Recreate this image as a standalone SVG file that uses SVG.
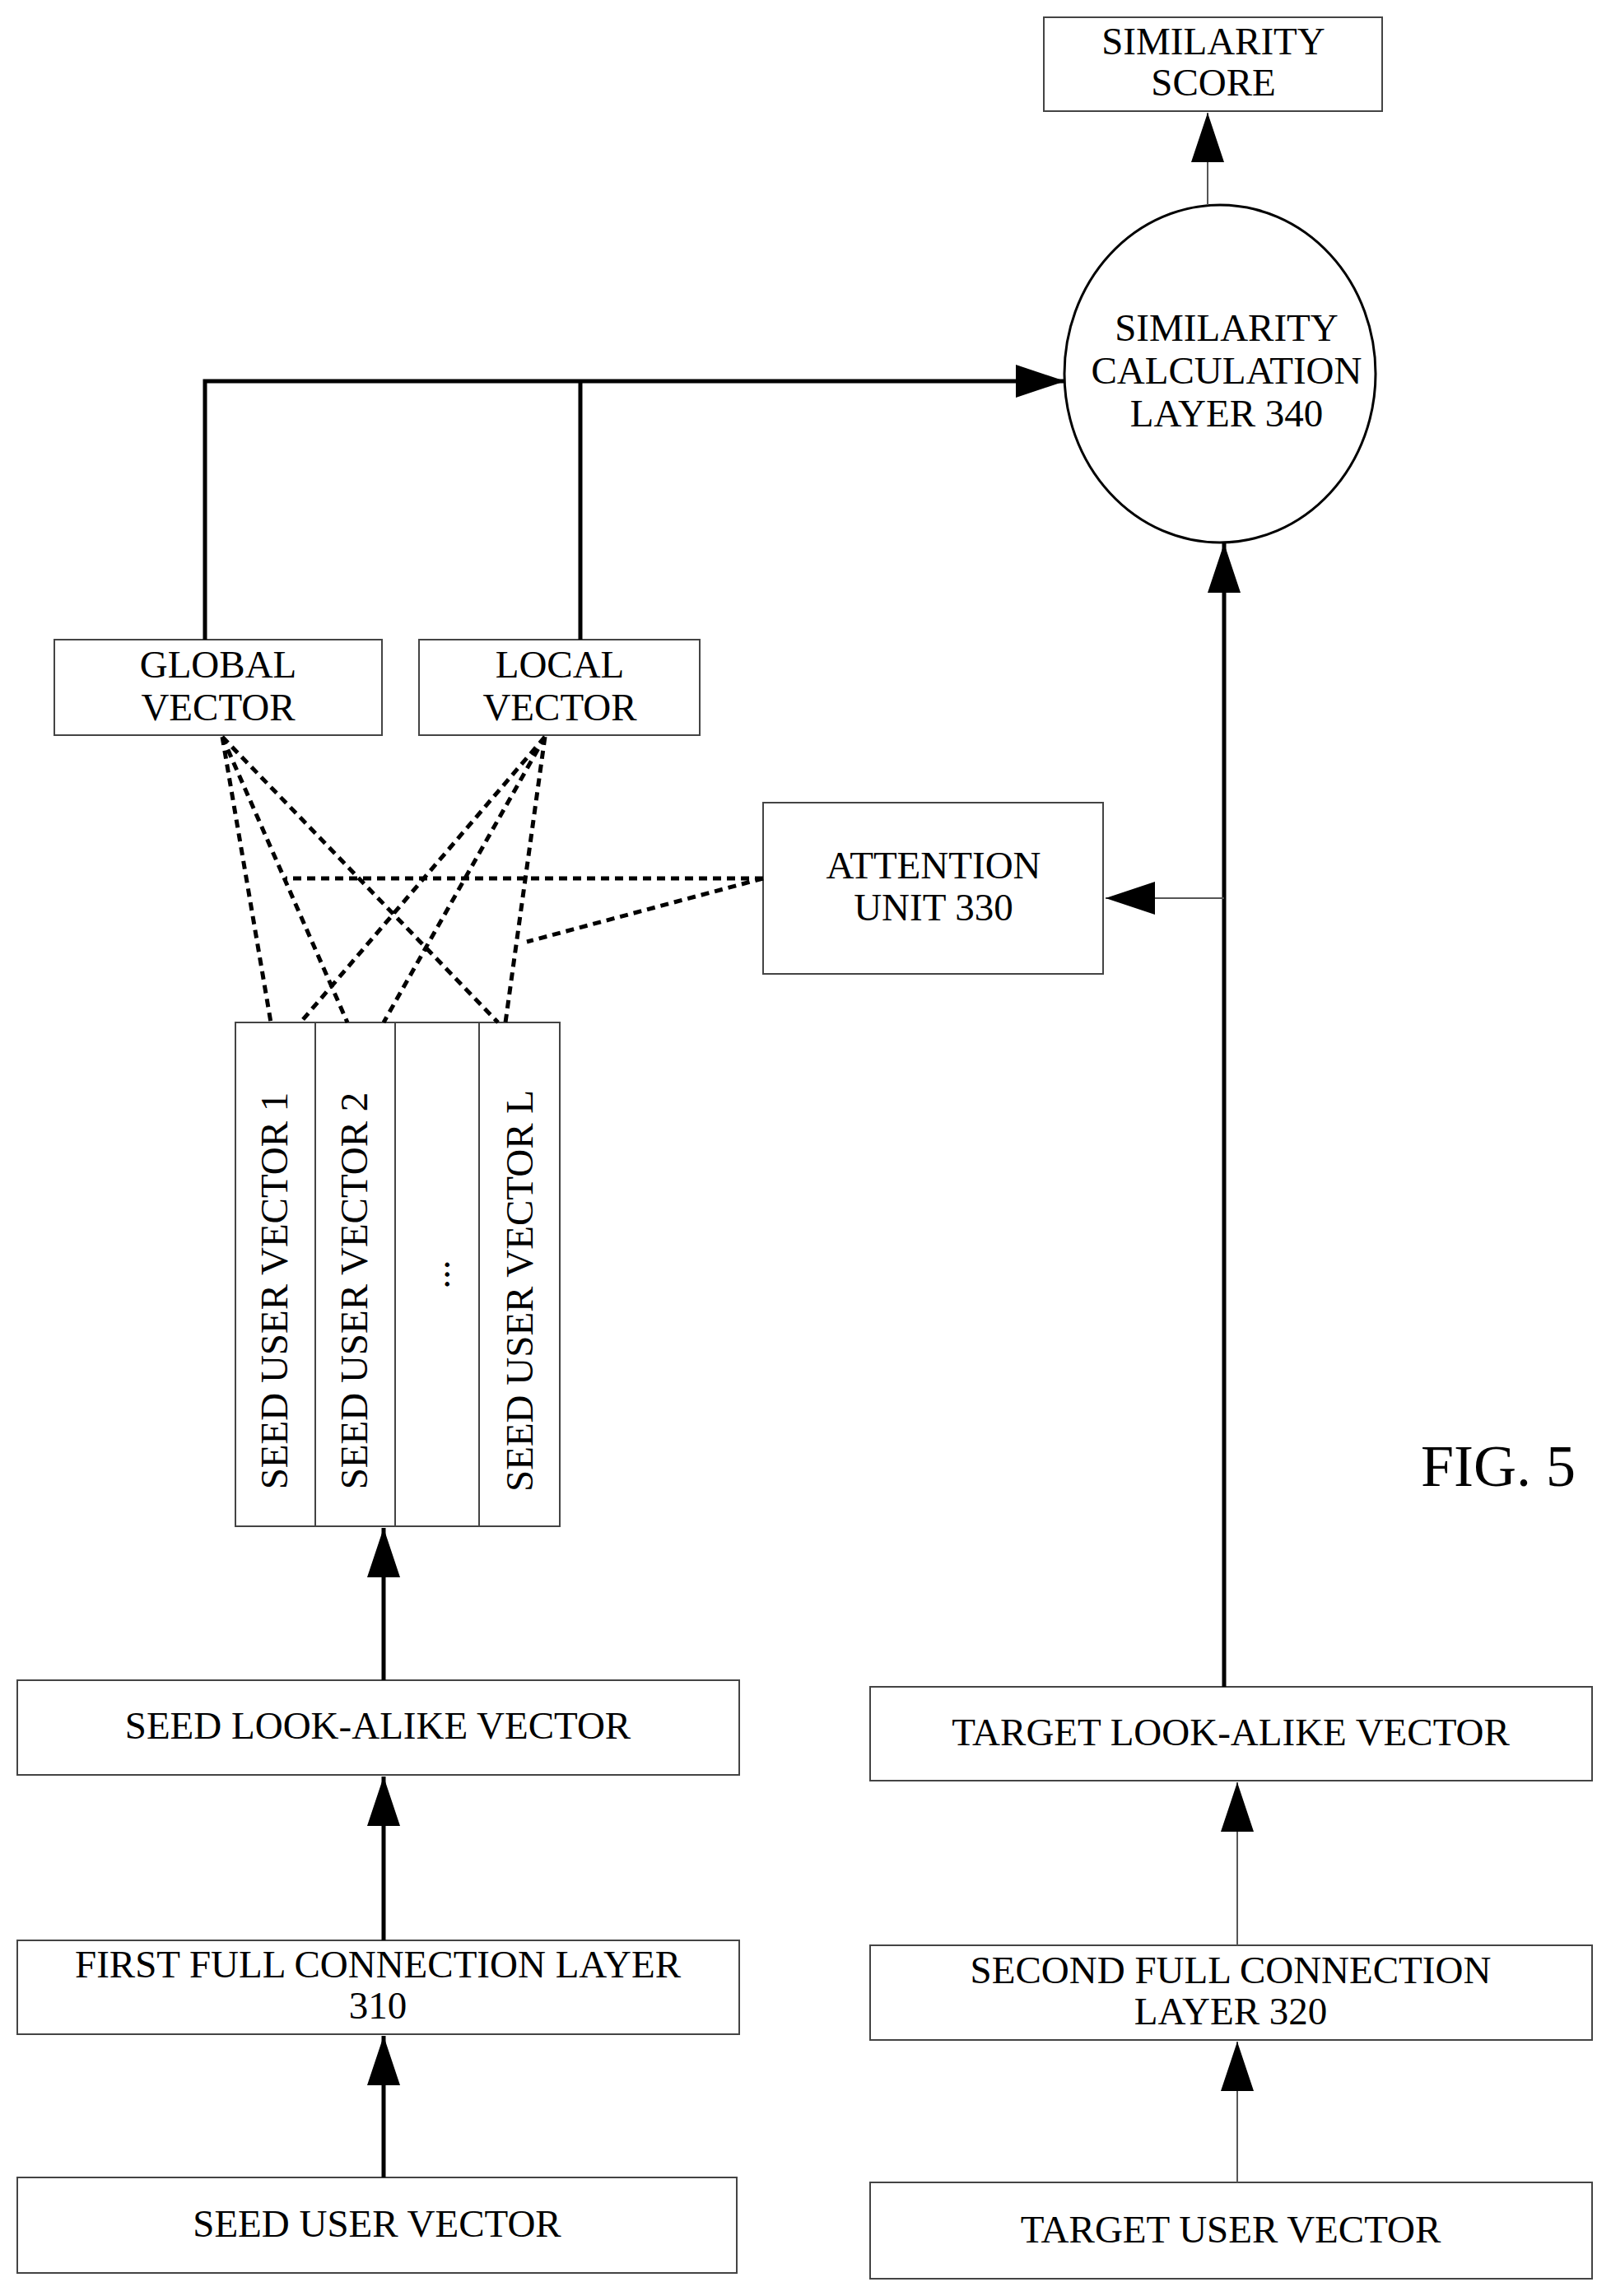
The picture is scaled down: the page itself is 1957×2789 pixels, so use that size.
<svg xmlns="http://www.w3.org/2000/svg" width="1957" height="2789" viewBox="0 0 1957 2789">
<style>
.b{fill:#fff;stroke:#444;stroke-width:2}
.t{font-family:"Liberation Serif",serif;font-size:47px;fill:#000;text-anchor:middle}
.k{stroke:#000;stroke-width:5;fill:none}
.n{stroke:#555;stroke-width:2;fill:none}
.d{stroke:#000;stroke-width:5;stroke-dasharray:10,7;fill:none}
</style>
<defs>
<marker id="a" markerUnits="userSpaceOnUse" markerWidth="60" markerHeight="40" refX="60" refY="20" orient="auto" viewBox="0 0 60 40"><path d="M0,0L60,20L0,40z" fill="#000"/></marker>
</defs>
<rect width="1957" height="2789" fill="#fff"/>
<g id="score"><rect class="b" x="1268" y="21" width="411" height="114"/><text class="t" x="1474" y="66">SIMILARITY</text><text class="t" x="1474" y="116">SCORE</text></g>
<g id="simcalc"><ellipse cx="1482" cy="454" rx="189" ry="205" fill="#fff" stroke="#000" stroke-width="3"/><text class="t" x="1490" y="414">SIMILARITY</text><text class="t" x="1490" y="466">CALCULATION</text><text class="t" x="1490" y="518">LAYER 340</text></g>
<g id="global"><rect class="b" x="66" y="777" width="398" height="116"/><text class="t" x="265" y="823">GLOBAL</text><text class="t" x="265" y="875">VECTOR</text></g>
<g id="local"><rect class="b" x="509" y="777" width="341" height="116"/><text class="t" x="680" y="823">LOCAL</text><text class="t" x="680" y="875">VECTOR</text></g>
<g id="attention"><rect class="b" x="927" y="975" width="413" height="208"/><text class="t" x="1134" y="1067">ATTENTION</text><text class="t" x="1134" y="1118">UNIT 330</text></g>
<g id="seedvecs">
<rect class="b" x="286" y="1242" width="97" height="612"/><rect class="b" x="383" y="1242" width="97" height="612"/><rect class="b" x="480" y="1242" width="102" height="612"/><rect class="b" x="582" y="1242" width="98" height="612"/>
<text class="t" transform="translate(349,1568) rotate(-90)">SEED USER VECTOR 1</text>
<text class="t" transform="translate(446,1568) rotate(-90)">SEED USER VECTOR 2</text>
<text class="t" transform="translate(546,1548) rotate(-90)">...</text>
<text class="t" transform="translate(647,1568) rotate(-90)">SEED USER VECTOR L</text>
</g>
<g id="seedlook"><rect class="b" x="21" y="2041" width="877" height="115"/><text class="t" x="459" y="2112">SEED LOOK-ALIKE VECTOR</text></g>
<g id="fc1"><rect class="b" x="21" y="2357" width="877" height="114"/><text class="t" x="459" y="2402">FIRST FULL CONNECTION LAYER</text><text class="t" x="459" y="2452">310</text></g>
<g id="seeduser"><rect class="b" x="21" y="2645" width="874" height="116"/><text class="t" x="458" y="2717">SEED USER VECTOR</text></g>
<g id="targetlook"><rect class="b" x="1057" y="2049" width="877" height="114"/><text class="t" x="1495" y="2120">TARGET LOOK-ALIKE VECTOR</text></g>
<g id="fc2"><rect class="b" x="1057" y="2363" width="877" height="115"/><text class="t" x="1495" y="2409">SECOND FULL CONNECTION</text><text class="t" x="1495" y="2459">LAYER 320</text></g>
<g id="targetuser"><rect class="b" x="1057" y="2651" width="877" height="117"/><text class="t" x="1495" y="2724">TARGET USER VECTOR</text></g>
<text x="1820" y="1805" style="font-family:'Liberation Serif',serif;font-size:72px;text-anchor:middle">FIG. 5</text>
<g id="connectors">
<path class="n" d="M1467,249V137" marker-end="url(#a)"/>
<path class="k" d="M249,777V463H1294" marker-end="url(#a)"/>
<path class="k" d="M705,777V463"/>
<path class="k" d="M1487,2049V660" marker-end="url(#a)"/>
<path class="n" d="M1487,1091H1343" marker-end="url(#a)"/>
<path class="k" d="M466,2041V1856" marker-end="url(#a)"/>
<path class="k" d="M466,2357V2158" marker-end="url(#a)"/>
<path class="k" d="M466,2645V2473" marker-end="url(#a)"/>
<path class="n" d="M1503,2363V2165" marker-end="url(#a)"/>
<path class="n" d="M1503,2651V2480" marker-end="url(#a)"/>
<path class="d" d="M270,895L329,1242M270,895L422,1242M270,895L605,1242M662,895L365,1242M662,895L466,1242M662,895L614,1242M927,1067H347M927,1067L640,1144"/>
</g>
</svg>
